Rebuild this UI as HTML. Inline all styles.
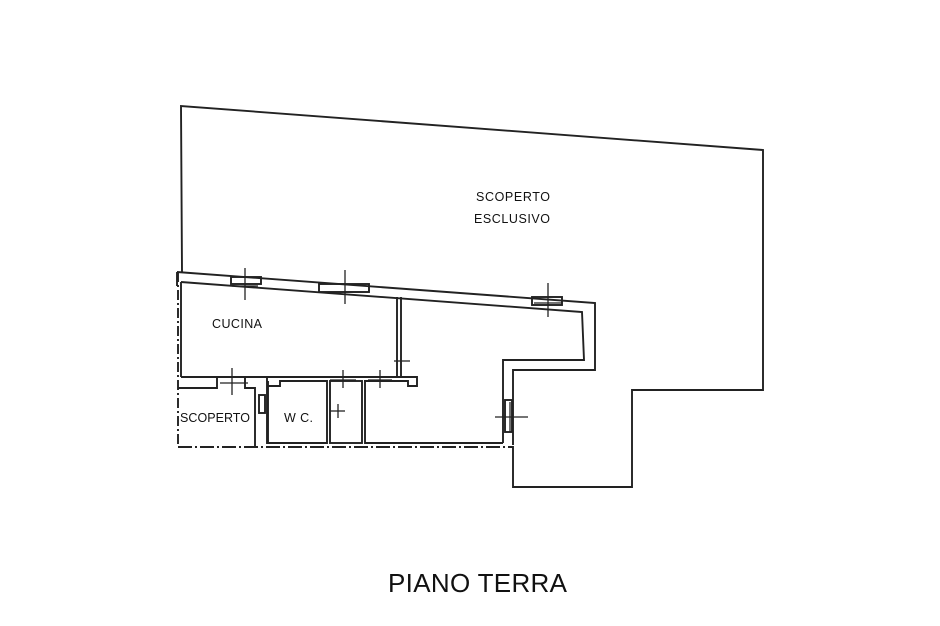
<!DOCTYPE html>
<html><head><style>
html,body{margin:0;padding:0;background:#fff;}
svg{display:block;}
text{font-family:"Liberation Sans",sans-serif;fill:#111;}
</style></head><body>
<svg width="940" height="626" viewBox="0 0 940 626" xmlns="http://www.w3.org/2000/svg">
<g fill="none" stroke="#222" stroke-width="1.9">
<polyline points="182,272 181,106 763,150 763,390 632,390 632,487 513,487 513,446"/>
<polyline points="178,272 178,447" stroke-dasharray="10,3,2,3"/>
<line x1="178" y1="447" x2="513" y2="447" stroke-dasharray="14,3,2,3"/>
<polyline points="177,272 595,303 595,370 513,370 513,445"/>
<polyline points="181,282 582,312 584,360 503,360 503,443"/>
<line x1="177" y1="272" x2="177" y2="286"/>
<line x1="181" y1="282" x2="181" y2="377"/>
<line x1="181" y1="377" x2="267" y2="377"/>
<polyline points="267,377 417,377 417,386 408,386 408,381 364,381"/>
<line x1="397" y1="297" x2="397" y2="377"/>
<line x1="401" y1="297" x2="401" y2="377"/>
<polyline points="178,388 217,388 217,377"/>
<polyline points="245,377 245,388 255,388 255,446"/>
<line x1="267" y1="377" x2="267" y2="444"/>
<polyline points="268,381 268,443 327,443 327,381 280,381 280,386 268,386"/>
<rect x="330" y="381" width="32" height="62"/>
<polyline points="365,381 365,443 503,443"/>
<rect x="231" y="277" width="30" height="7"/>
<rect x="319" y="284" width="50" height="8"/>
<rect x="532" y="297" width="30" height="8"/>
<rect x="259" y="395" width="6" height="18"/>
<rect x="505" y="400" width="7" height="32"/>
</g>
<g stroke="#222" stroke-width="1.3">
<line x1="245" y1="268" x2="245" y2="300"/><line x1="232" y1="286" x2="258" y2="286"/>
<line x1="345" y1="270" x2="345" y2="304"/><line x1="330" y1="292" x2="360" y2="292"/>
<line x1="548" y1="283" x2="548" y2="317"/><line x1="534" y1="303" x2="562" y2="303"/>
<line x1="232" y1="368" x2="232" y2="395"/><line x1="220" y1="383" x2="248" y2="383"/>
<line x1="343" y1="370" x2="343" y2="388"/><line x1="330" y1="380" x2="356" y2="380"/>
<line x1="380" y1="370" x2="380" y2="388"/><line x1="368" y1="380" x2="392" y2="380"/>
<line x1="330" y1="411" x2="345" y2="411"/><line x1="338" y1="404" x2="338" y2="418"/>
<line x1="394" y1="361" x2="410" y2="361"/>
<line x1="495" y1="417" x2="528" y2="417"/><line x1="510" y1="402" x2="510" y2="432"/>
</g>
<text x="476" y="201" font-size="12.5" textLength="74">SCOPERTO</text>
<text x="474" y="223" font-size="12.5" textLength="76">ESCLUSIVO</text>
<text x="212" y="328" font-size="12.5" textLength="50">CUCINA</text>
<text x="180" y="422" font-size="12.5" textLength="70">SCOPERTO</text>
<text x="284" y="422" font-size="12.5" textLength="29">W C.</text>
<text x="388" y="592" font-size="26" textLength="179">PIANO TERRA</text>
</svg>
</body></html>
